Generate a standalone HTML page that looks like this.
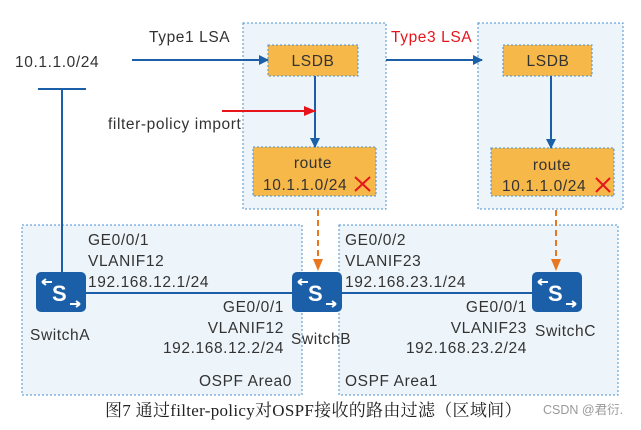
<!DOCTYPE html>
<html><head><meta charset="utf-8"><style>
body{margin:0;background:#fff;}
svg text{font-family:"Liberation Sans","Noto Sans CJK SC",sans-serif;font-size:15.5px;letter-spacing:0.6px;fill:#333;}
</style></head><body>
<svg width="641" height="425" viewBox="0 0 641 425" xmlns="http://www.w3.org/2000/svg">
<defs>
<marker id="ab" markerWidth="10" markerHeight="10" refX="9" refY="5" orient="auto" markerUnits="userSpaceOnUse"><path d="M0,0 L10,5 L0,10 z" fill="#1a5fa8"/></marker>
<marker id="ar" markerWidth="12" markerHeight="10" refX="11" refY="5" orient="auto" markerUnits="userSpaceOnUse"><path d="M0,0 L12,5 L0,10 z" fill="#e8141c"/></marker>
<marker id="ao" markerWidth="10" markerHeight="12" refX="5" refY="11" orient="0" markerUnits="userSpaceOnUse"><path d="M0,0 L10,0 L5,12 z" fill="#e87722"/></marker>
<g id="sw"><rect x="0" y="0" width="50" height="40" rx="5" fill="#1a5fa8"/><text x="16" y="29" style="font-size:22px;font-weight:bold;fill:#fff;letter-spacing:0">S</text><path d="M6,10 h10 M6,10 l4,-3 M6,10 l4,3 M34,32 h10 M44,32 l-4,-3 M44,32 l-4,3" stroke="#fff" stroke-width="2" fill="none"/></g>
</defs>
<rect x="243" y="23" width="143" height="186" fill="#eef5fa" stroke="#4a90d0" stroke-dasharray="2,2"/>
<rect x="478" y="23" width="145" height="186" fill="#eef5fa" stroke="#4a90d0" stroke-dasharray="2,2"/>
<rect x="22" y="225" width="280" height="170" fill="#eef5fa" stroke="#4a90d0" stroke-dasharray="2,2"/>
<rect x="339" y="225" width="279" height="170" fill="#eef5fa" stroke="#4a90d0" stroke-dasharray="2,2"/>
<rect x="268" y="45" width="90" height="31" fill="#f7b84a" stroke="#4a90d0" stroke-dasharray="2,2"/>
<rect x="253" y="147" width="123" height="49" fill="#f7b84a" stroke="#4a90d0" stroke-dasharray="2,2"/>
<rect x="503" y="45" width="89" height="31" fill="#f7b84a" stroke="#4a90d0" stroke-dasharray="2,2"/>
<rect x="491" y="148" width="123" height="48" fill="#f7b84a" stroke="#4a90d0" stroke-dasharray="2,2"/>
<text x="313" y="66" text-anchor="middle">LSDB</text><text x="548" y="66" text-anchor="middle">LSDB</text>
<text x="313" y="168" text-anchor="middle">route</text><text x="263" y="190">10.1.1.0/24</text>
<text x="552" y="170" text-anchor="middle">route</text><text x="502" y="191">10.1.1.0/24</text>
<path d="M355,177 l15,14 M370,177 l-15,14 M596,178 l14,14 M610,178 l-14,14" stroke="#e8141c" stroke-width="2"/>
<text x="15" y="67">10.1.1.0/24</text>
<text x="149" y="42">Type1 LSA</text>
<text x="391" y="42" style="fill:#e8141c">Type3 LSA</text>
<text x="108" y="129">filter-policy import</text>
<line x1="132" y1="60" x2="268" y2="60" stroke="#1a5fa8" stroke-width="2" marker-end="url(#ab)"/>
<line x1="386" y1="60" x2="482" y2="60" stroke="#1a5fa8" stroke-width="2" marker-end="url(#ab)"/>
<line x1="315" y1="76" x2="315" y2="147" stroke="#1a5fa8" stroke-width="2" marker-end="url(#ab)"/>
<line x1="551" y1="76" x2="551" y2="148" stroke="#1a5fa8" stroke-width="2" marker-end="url(#ab)"/>
<line x1="222" y1="111" x2="315" y2="111" stroke="#e8141c" stroke-width="2" marker-end="url(#ar)"/>
<line x1="38" y1="89" x2="86" y2="89" stroke="#1a5fa8" stroke-width="2"/>
<line x1="62" y1="89" x2="62" y2="272" stroke="#1a5fa8" stroke-width="2"/>
<line x1="318" y1="210" x2="318" y2="270" stroke="#e87722" stroke-width="2" stroke-dasharray="6,4" marker-end="url(#ao)"/>
<line x1="556" y1="210" x2="556" y2="270" stroke="#e87722" stroke-width="2" stroke-dasharray="6,4" marker-end="url(#ao)"/>
<line x1="86" y1="293" x2="532" y2="293" stroke="#1a5fa8" stroke-width="2"/>
<use href="#sw" x="36" y="272"/><use href="#sw" x="292" y="272"/><use href="#sw" x="532" y="272"/>
<text x="88" y="245">GE0/0/1</text><text x="88" y="266">VLANIF12</text><text x="88" y="287">192.168.12.1/24</text>
<text x="284" y="312" text-anchor="end">GE0/0/1</text><text x="284" y="333" text-anchor="end">VLANIF12</text><text x="284" y="353" text-anchor="end">192.168.12.2/24</text>
<text x="345" y="245">GE0/0/2</text><text x="345" y="266">VLANIF23</text><text x="345" y="287">192.168.23.1/24</text>
<text x="527" y="312" text-anchor="end">GE0/0/1</text><text x="527" y="333" text-anchor="end">VLANIF23</text><text x="527" y="353" text-anchor="end">192.168.23.2/24</text>
<text x="30" y="340">SwitchA</text><text x="291" y="344">SwitchB</text><text x="535" y="336">SwitchC</text>
<text x="292" y="386" text-anchor="end">OSPF Area0</text><text x="345" y="386">OSPF Area1</text>
<text x="105" y="416" style="font-family:'Liberation Serif','Noto Serif CJK SC',serif;font-size:17px;letter-spacing:0.3px;fill:#222">图7 通过filter-policy对OSPF接收的路由过滤（区域间）</text>
<text x="543" y="414" style="font-size:12.5px;letter-spacing:0;fill:#999">CSDN @君衍.</text>
</svg>
</body></html>
